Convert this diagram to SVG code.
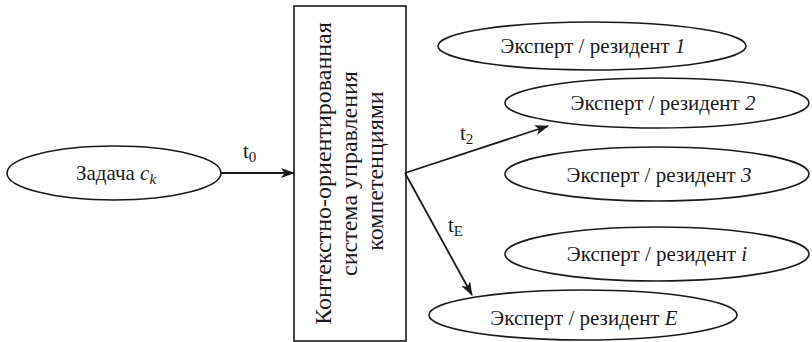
<svg xmlns="http://www.w3.org/2000/svg" width="812" height="342" viewBox="0 0 812 342">
<style>
  .shape { fill: #fff; stroke: #1a1a1a; stroke-width: 1.6; }
  .lbl { font-size: 21px; fill: #1a1a1a; text-anchor: middle; }
  .box { font-size: 24px; fill: #1a1a1a; text-anchor: middle; }
  .it { font-style: italic; }
  .conn { stroke: #1a1a1a; stroke-width: 1.8; fill: none; marker-end: url(#arr); }
  .t { font-size: 21px; fill: #1a1a1a; }
  .sub { font-size: 15px; }
</style>
<defs>
  <marker id="arr" viewBox="0 0 14 10" refX="13" refY="5" markerWidth="14" markerHeight="10" markerUnits="userSpaceOnUse" orient="auto">
    <path d="M0,0 L14,5 L0,10 L3.5,5 Z" fill="#1a1a1a"/>
  </marker>
</defs>
<rect width="812" height="342" fill="#fff"/>

<g font-family="Liberation Serif, Tinos, DejaVu Serif, serif">
<g id="task">
  <ellipse class="shape" cx="114" cy="173" rx="107" ry="27"/>
  <text class="lbl" x="116" y="180">Задача <tspan class="it">c</tspan><tspan class="it sub" dy="4">k</tspan></text>
</g>

<g id="system">
  <rect class="shape" x="294" y="6" width="112" height="335"/>
  <text class="box" transform="translate(331,173.5) rotate(-90)">Контекстно-ориентированная</text>
  <text class="box" transform="translate(357,173.5) rotate(-90)">система управления</text>
  <text class="box" transform="translate(383,171) rotate(-90)">компетенциями</text>
</g>

<g id="expert1">
  <ellipse class="shape" cx="592" cy="46" rx="154" ry="24"/>
  <text class="lbl" x="593" y="53">Эксперт / резидент <tspan class="it">1</tspan></text>
</g>
<g id="expert2">
  <ellipse class="shape" cx="657" cy="103" rx="152" ry="25"/>
  <text class="lbl" x="663" y="110">Эксперт / резидент <tspan class="it">2</tspan></text>
</g>
<g id="expert3">
  <ellipse class="shape" cx="657" cy="174" rx="152" ry="27"/>
  <text class="lbl" x="659" y="182">Эксперт / резидент <tspan class="it">3</tspan></text>
</g>
<g id="experti">
  <ellipse class="shape" cx="657" cy="254" rx="152" ry="27"/>
  <text class="lbl" x="657" y="261">Эксперт / резидент <tspan class="it">i</tspan></text>
</g>
<g id="expertE">
  <ellipse class="shape" cx="583" cy="315" rx="154" ry="25"/>
  <text class="lbl" x="584" y="325">Эксперт / резидент <tspan class="it">E</tspan></text>
</g>

<g id="connectors">
  <line class="conn" x1="221" y1="173" x2="294" y2="173"/>
  <line class="conn" x1="405" y1="173" x2="548" y2="126"/>
  <line class="conn" x1="405" y1="173" x2="472" y2="295"/>
  <text class="t" x="243" y="158">t<tspan class="sub" dy="4">0</tspan></text>
  <text class="t" x="460" y="140">t<tspan class="sub" dy="4">2</tspan></text>
  <text class="t" x="448" y="232">t<tspan class="sub" dy="4">E</tspan></text>
</g>
</g>
</svg>
